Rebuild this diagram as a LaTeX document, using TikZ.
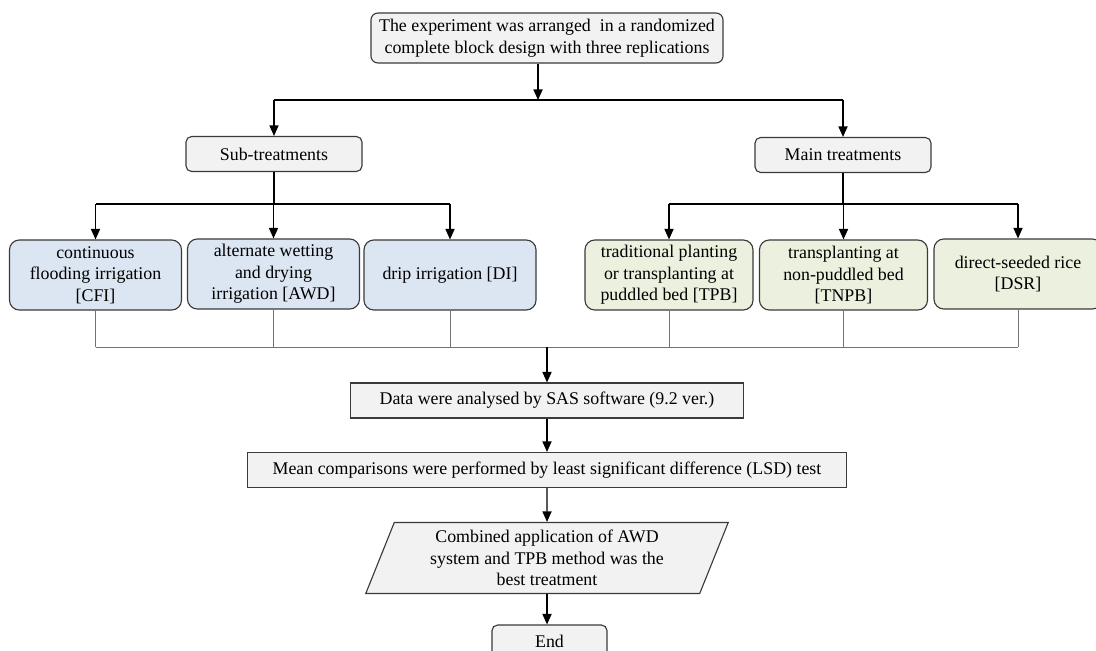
\documentclass[tikz,border=0pt]{standalone}
\usepackage{fontspec}
\setmainfont{Liberation Serif}
\usetikzlibrary{arrows.meta,shapes.geometric}
\definecolor{boxgrey}{HTML}{F2F2F2}
\definecolor{subblue}{HTML}{DCE6F2}
\definecolor{maingreen}{HTML}{EBF1DE}
\definecolor{edgegrey}{HTML}{3A3A3A}
\tikzset{
  basebox/.style={draw=edgegrey, line width=0.8pt, fill=boxgrey, align=center, inner sep=2pt, font=\fontsize{12.7}{15.3}\selectfont},
  headbox/.style={basebox, rounded corners=5pt, minimum width=8.8cm, minimum height=1.25cm},
  groupbox/.style={basebox, rounded corners=4pt, minimum width=4.4cm, minimum height=0.875cm},
  subtreat/.style={basebox, fill=subblue, rounded corners=7pt, minimum width=4.3cm, minimum height=1.75cm},
  maintreat/.style={basebox, fill=maingreen, rounded corners=7pt, minimum width=4.2cm, minimum height=1.75cm},
  stepbox/.style={basebox, minimum height=0.875cm},
  resultbox/.style={basebox, trapezium, trapezium left angle=70, trapezium right angle=110, trapezium stretches=true, minimum width=9.075cm, minimum height=1.775cm},
  endbox/.style={basebox, rounded corners=4pt, minimum width=2.875cm, minimum height=0.8cm},
  flowline/.style={line width=0.9pt, draw=black},
  flowarrow/.style={flowline, -{Triangle[length=7.5pt, width=6.5pt]}},
  tieline/.style={line width=0.6pt, draw=black!55}
}

\begin{document}
\begin{tikzpicture}[x=0.025cm, y=-0.025cm]
  \useasboundingbox (0,0) rectangle (1096,650);

  \node[headbox] (exp) at (547,38) {The experiment was arranged\ \ in a randomized\\complete block design with three replications};

  \node[groupbox] (sub) at (274,154) {Sub-treatments};
  \node[groupbox] (main) at (843,155) {Main treatments};

  \node[subtreat] (cfi) at (95.5,275) {continuous\\flooding irrigation\\{[CFI]}};
  \node[subtreat] (awd) at (273.5,274) {alternate wetting\\and drying\\irrigation [AWD]};
  \node[subtreat] (di) at (450,275) {drip irrigation [DI]};

  \node[maintreat] (tpb) at (669,275) {traditional planting\\or transplanting at\\puddled bed [TPB]};
  \node[maintreat] (tnpb) at (843.5,275) {transplanting at\\non-puddled bed\\{[TNPB]}};
  \node[maintreat] (dsr) at (1018,274) {direct-seeded rice\\{[DSR]}};

  \node[stepbox, minimum width=9.825cm] (data) at (547,400.5) {Data were analysed by SAS software (9.2 ver.)};
  \node[stepbox, minimum width=14.95cm] (mean) at (547,470) {Mean comparisons were performed by least significant difference (LSD) test};
  \node[resultbox] (best) at (547,558) {Combined application of AWD\\system and TPB method was the\\best treatment};
  \node[endbox] (end) at (549.5,641) {End};

  \coordinate (split) at (538,100);
  \coordinate (subsplit) at (274,204);
  \coordinate (mainsplit) at (843,204);
  \coordinate (merge) at (547,347);

  % design splits into the two treatment groups
  \draw[flowarrow] (exp.south -| split) -- (split);
  \draw[flowline] (sub.north |- split) -- (main.north |- split);
  \draw[flowarrow] (sub.north |- split) -- (sub.north);
  \draw[flowarrow] (main.north |- split) -- (main.north);

  % group boxes to their treatments
  \draw[flowline] (sub.south) -- (subsplit);
  \draw[flowline] (cfi.north |- subsplit) -- (di.north |- subsplit);
  \foreach \t in {cfi, awd, di}
    \draw[flowarrow] (\t.north |- subsplit) -- (\t.north);
  \draw[flowline] (main.south) -- (mainsplit);
  \draw[flowline] (tpb.north |- mainsplit) -- (dsr.north |- mainsplit);
  \foreach \t in {tpb, tnpb, dsr}
    \draw[flowarrow] (\t.north |- mainsplit) -- (\t.north);

  % all treatments gathered for analysis
  \draw[tieline] (cfi.south |- merge) -- (dsr.south |- merge);
  \foreach \t in {cfi, awd, di, tpb, tnpb, dsr}
    \draw[tieline] (\t.south) -- (\t.south |- merge);
  \draw[flowarrow] (merge) -- (data.north);

  \draw[flowarrow] (data.south) -- (mean.north);
  \draw[flowarrow] (mean.south) -- (best.north);
  \draw[flowarrow] (best.south) -- (best.south |- end.north);
\end{tikzpicture}
\end{document}
